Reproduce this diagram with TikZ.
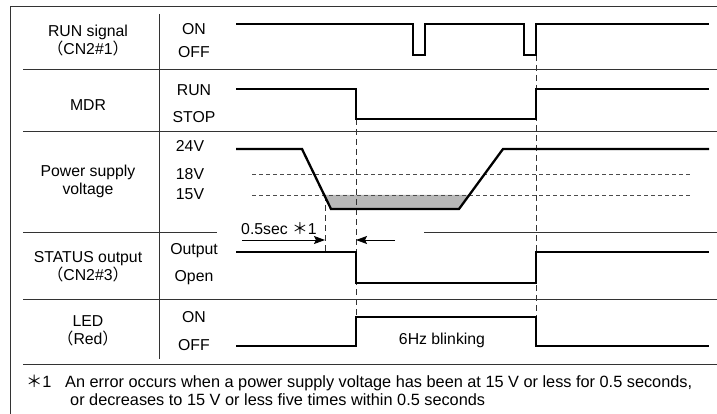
\documentclass[tikz,border=0pt]{standalone}
\usepackage{fontspec}
\setmainfont{Liberation Sans}
\newfontfamily\cjk{Noto Sans CJK JP}
\usepackage{tikz}
\usetikzlibrary{arrows.meta}
\newcommand{\fwl}{{\cjk （}}
\newcommand{\fwr}{{\cjk ）}}
\newcommand{\fwast}{{\cjk ＊}}

\begin{document}
\begin{tikzpicture}[x=1pt, y=-1pt, font=\fontsize{15.8}{18}\selectfont, >={Stealth[length=11pt,width=8pt,inset=2pt]},
  frame/.style={draw=black!80, line width=0.9pt},
  sig/.style={line width=2.3pt, line join=miter},
  guide/.style={black!70, line width=0.8pt, dash pattern=on 4pt off 3pt},
  cutline/.style={black!80, line width=0.8pt, dash pattern=on 6pt off 4pt},
  lvl/.style={align=center, inner sep=0pt},
  note/.style={anchor=base west, inner sep=0pt, font=\fontsize{16.3}{18}\selectfont}]
\useasboundingbox (0,0) rectangle (717,414);

% frame and rows
\draw[frame] (10,414) -- (10,6) -- (717,6);
\draw[frame] (23,69) -- (717,69);
\draw[frame] (23,131) -- (717,131);
\draw[frame] (23,232) -- (217,232);
\draw[frame] (424,232) -- (717,232);
\draw[frame] (23,299) -- (717,299);
\draw[frame] (23,364) -- (717,364);
\draw[frame] (159,14) -- (159,359);

% signal names
\node[lvl] (run) at (88,41) {RUN signal\\\fwl CN2\#1\fwr};
\node[lvl] (mdr) at (88,105) {MDR};
\node[lvl] (psv) at (88,181) {Power supply\\voltage};
\node[lvl] (stat) at (88,267) {STATUS output\\\fwl CN2\#3\fwr};
\node[lvl] (led) at (88,331) {LED\\\fwl Red\fwr};

% levels
\node[lvl] (run-on) at (194,29) {ON};
\node[lvl] (run-off) at (194,52) {OFF};
\node[lvl] (mdr-run) at (194,90) {RUN};
\node[lvl] (mdr-stop) at (194,117) {STOP};
\node[lvl] (v24) at (190,146) {24V};
\node[lvl] (v18) at (190,174) {18V};
\node[lvl] (v15) at (190,194) {15V};
\node[lvl] (st-out) at (194,251) {Output};
\node[lvl] (st-open) at (194,278) {Open};
\node[lvl] (led-on) at (194,317) {ON};
\node[lvl] (led-off) at (194,345) {OFF};

% voltage band
\fill[black!28] (324,195) -- (331,209) -- (459,209) -- (469,195) -- cycle;
\draw[guide] (252,174) -- (692,174);
\draw[guide] (252,195) -- (692,195);

% guide lines
\draw[cutline] (536,55) -- (536,317);
\draw[cutline] (356,119) -- (356,317);
\draw[cutline] (325,195) -- (325,252);

% waveforms
\draw[sig] (236,24) -- (413,24) -- (413,55) -- (425,55) -- (425,24) -- (524,24)
  -- (524,55) -- (536,55) -- (536,24) -- (709,24);
\draw[sig] (236,89) -- (356,89) -- (356,119) -- (536,119) -- (536,89) -- (709,89);
\draw[sig] (236,149) -- (302,149) -- (331,209) -- (459,209) -- (503,149) -- (709,149);
\draw[sig] (236,252) -- (356,252) -- (356,283) -- (536,283) -- (536,252) -- (709,252);
\draw[sig] (236,346) -- (356,346) -- (356,317) -- (536,317) -- (536,346) -- (709,346);

% 0.5 sec
\coordinate (t0) at (325,240);
\coordinate (t1) at (356,240);
\draw[->, line width=0.8pt] (242,240) -- (t0);
\draw[->, line width=0.8pt] (395,240) -- (t1);
\node[lvl] (delay) at (279,229) {0.5sec \fwast1};
\node[lvl] (blink) at (442,340) {6Hz blinking};

% note
\node[note] (note-mark) at (26,387) {\fwast1};
\node[note] (note1) at (65,387) {An error occurs when a power supply voltage has been at 15 V or less for 0.5 seconds,};
\node[note] (note2) at (70,405) {or decreases to 15 V or less five times within 0.5 seconds};
\end{tikzpicture}
\end{document}
